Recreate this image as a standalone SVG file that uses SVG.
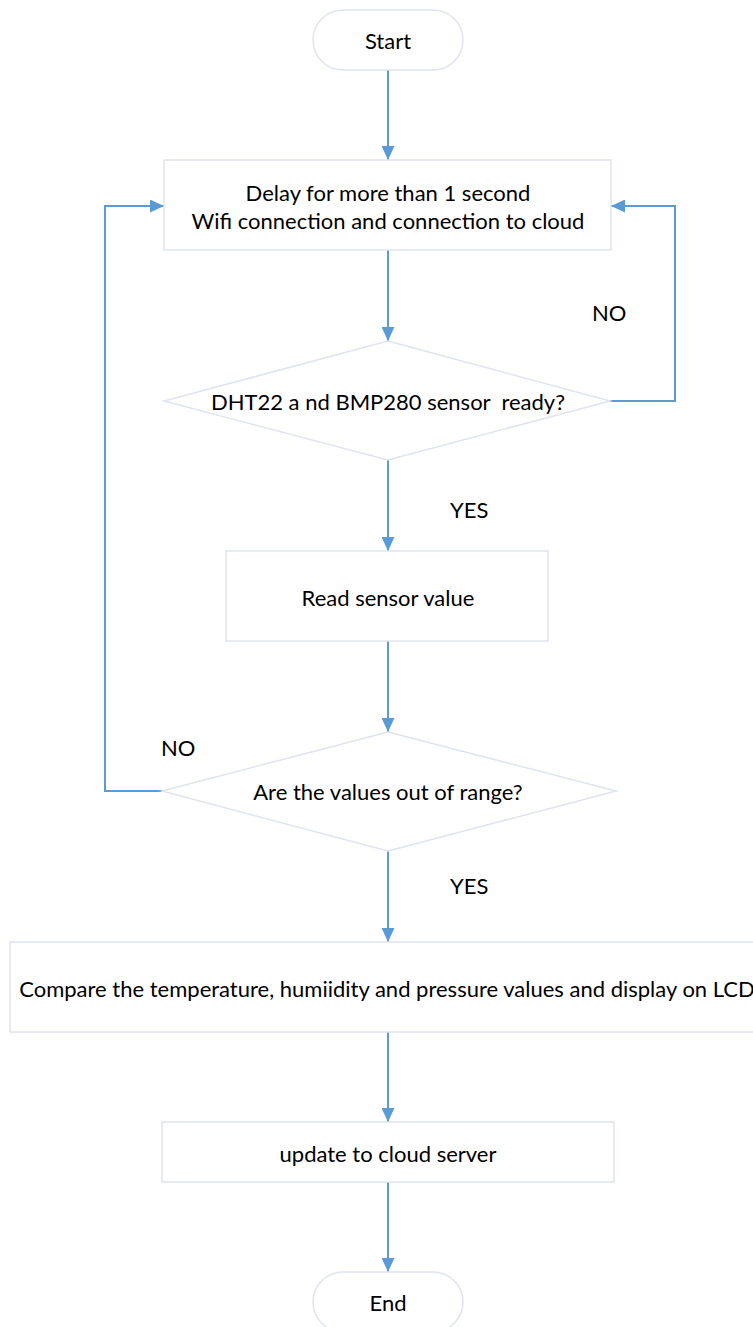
<svg xmlns="http://www.w3.org/2000/svg" width="753" height="1327" viewBox="0 0 753 1327">
  <style>
    .shape { fill: #ffffff; stroke: #dfe4ee; stroke-width: 1.5; }
    .conn { fill: none; stroke: #5b9bd5; stroke-width: 2; }
    .t { font-family: Lato, "Open Sans", "Liberation Sans", sans-serif; font-size: 22px; fill: #000000; text-anchor: middle; dominant-baseline: central; white-space: pre; }
    .lbl { font-family: Lato, "Open Sans", "Liberation Sans", sans-serif; font-size: 22px; fill: #000000; dominant-baseline: central; }
  </style>
  <defs>
    <marker id="arr" markerWidth="14" markerHeight="13" refX="14" refY="6.5" orient="auto" markerUnits="userSpaceOnUse">
      <path d="M0,0 L14,6.5 L0,13 z" fill="#5b9bd5"/>
    </marker>
  </defs>
  <rect width="753" height="1327" fill="#ffffff"/>

  <g id="connectors">
    <path class="conn" d="M388,70 L388,160" marker-end="url(#arr)"/>
    <path class="conn" d="M388,250 L388,341" marker-end="url(#arr)"/>
    <path class="conn" d="M610,401 L675,401 L675,206 L611,206" marker-end="url(#arr)"/>
    <path class="conn" d="M162,791 L105,791 L105,206 L164,206" marker-end="url(#arr)"/>
    <path class="conn" d="M388,460 L388,551" marker-end="url(#arr)"/>
    <path class="conn" d="M388,641 L388,732" marker-end="url(#arr)"/>
    <path class="conn" d="M388,851 L388,942" marker-end="url(#arr)"/>
    <path class="conn" d="M388,1032 L388,1122" marker-end="url(#arr)"/>
    <path class="conn" d="M388,1182 L388,1272" marker-end="url(#arr)"/>
    <text class="lbl" x="592" y="312">NO</text>
    <text class="lbl" x="450" y="509">YES</text>
    <text class="lbl" x="161" y="747">NO</text>
    <text class="lbl" x="450" y="885">YES</text>
  </g>

  <g id="start">
    <rect class="shape" x="313" y="10" width="150" height="60" rx="30" ry="30"/>
    <text class="t" x="388" y="40">Start</text>
  </g>

  <g id="delay">
    <rect class="shape" x="164" y="160" width="447" height="90"/>
    <text class="t" x="388" y="192">Delay for more than 1 second</text>
    <text class="t" x="388" y="220">Wifi connection and connection to cloud</text>
  </g>

  <g id="sensor-ready">
    <polygon class="shape" points="388,341 610,401 388,460 164,401"/>
    <text class="t" x="388" y="401">DHT22 a nd BMP280 sensor  ready?</text>
  </g>

  <g id="read">
    <rect class="shape" x="226" y="551" width="322" height="90"/>
    <text class="t" x="388" y="597">Read sensor value</text>
  </g>

  <g id="out-of-range">
    <polygon class="shape" points="388,732 616,791 388,851 162,791"/>
    <text class="t" x="388" y="791">Are the values out of range?</text>
  </g>

  <g id="compare">
    <rect class="shape" x="10" y="942" width="756" height="90"/>
    <text class="t" x="387" y="988">Compare the temperature, humiidity and pressure values and display on LCD</text>
  </g>

  <g id="update">
    <rect class="shape" x="162" y="1122" width="452" height="60"/>
    <text class="t" x="388" y="1153">update to cloud server</text>
  </g>

  <g id="end">
    <rect class="shape" x="313" y="1272" width="150" height="60" rx="30" ry="30"/>
    <text class="t" x="388" y="1302">End</text>
  </g>
</svg>
